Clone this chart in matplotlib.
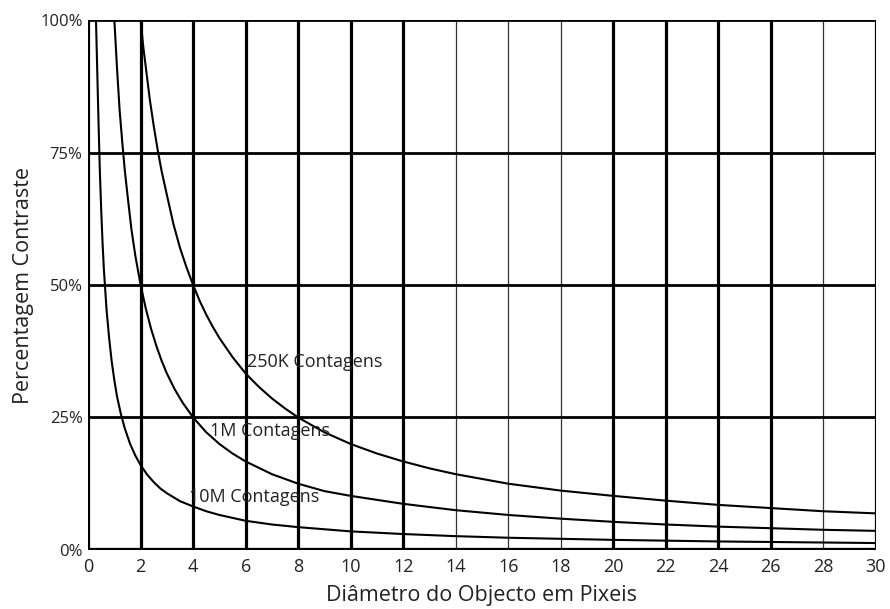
import matplotlib.pyplot as plt

plt.rcParams['font.family'] = ['Open Sans', 'DejaVu Sans']

# Curves (percent contrast vs object diameter in pixels)
x_250k = [2, 2.1, 2.2, 2.35, 2.5, 2.65, 2.8, 3, 3.25, 3.5, 3.75, 4, 4.25, 4.5, 4.75, 5, 5.5, 6, 6.5, 7, 7.5, 8,
          9, 10, 11, 12, 13, 14, 16, 18, 20, 22, 24, 26, 28, 30]
y_250k = [100, 95, 91, 85, 80, 75.5, 71.5, 67, 61.5, 57, 53.3, 50, 47, 44.4, 42.1, 40, 36.4, 33.3, 30.8, 28.6,
          26.7, 25, 22.2, 20, 18.2, 16.7, 15.4, 14.3, 12.5, 11.2, 10.2, 9.3, 8.5, 7.9, 7.3, 6.9]

x_1m = [1, 1.1, 1.2, 1.3, 1.4, 1.5, 1.65, 1.8, 2, 2.2, 2.4, 2.6, 2.8, 3, 3.3, 3.6, 4, 4.5, 5, 5.5, 6, 7, 8,
        9, 10, 12, 14, 16, 18, 20, 22, 24, 26, 28, 30]
y_1m = [100, 91, 83, 77, 71.5, 67, 60.5, 55.5, 50, 45.5, 41.7, 38.5, 35.7, 33.3, 30.3, 27.8, 25, 22.2, 20,
        18.2, 16.7, 14.3, 12.5, 11.1, 10.2, 8.7, 7.5, 6.6, 5.9, 5.3, 4.8, 4.4, 4.1, 3.8, 3.6]

x_10m = [0.3, 0.35, 0.4, 0.45, 0.5, 0.55, 0.6, 0.7, 0.8, 0.9, 1, 1.1, 1.25, 1.4, 1.6, 1.8, 2, 2.25, 2.5, 2.75,
         3, 3.5, 4, 4.5, 5, 6, 7, 8, 10, 12, 14, 16, 18, 20, 24, 28, 30]
y_10m = [100, 90, 80, 71, 64, 58, 53, 45.5, 40, 35.5, 32, 29, 25.6, 22.9, 20, 17.8, 16, 14.2, 12.8, 11.6,
         10.7, 9.2, 8.2, 7.3, 6.6, 5.5, 4.8, 4.3, 3.5, 3.0, 2.6, 2.3, 2.1, 1.9, 1.6, 1.4, 1.3]

labels = ['250K Contagens', '1M Contagens', '10M Contagens']
label_pos = [(6.05, 35.5), (4.65, 22.5), (3.85, 10.0)]

x_ticks = list(range(0, 31, 2))
thin_lines = [14, 16, 18, 28]
y_ticks = [0, 25, 50, 75, 100]
y_ticklabels = ['0%', '25%', '50%', '75%', '100%']

fig = plt.figure(figsize=(8.9, 6.09), dpi=100)
ax = fig.add_axes([0.099, 0.097, 0.885, 0.870])

# grid
for xv in x_ticks:
    if xv in thin_lines:
        ax.axvline(xv, color='#333333', lw=0.9, zorder=1)
    else:
        ax.axvline(xv, color='black', lw=2.3, zorder=1)
for yv in y_ticks[1:]:
    ax.axhline(yv, color='black', lw=2.0, zorder=1)
ax.axhline(0, color='black', lw=3.8, zorder=3)

ax.plot(x_250k, y_250k, color='black', lw=1.5, zorder=2)
ax.plot(x_1m, y_1m, color='black', lw=1.5, zorder=2)
ax.plot(x_10m, y_10m, color='black', lw=1.5, zorder=2)

for lab, (lx, ly) in zip(labels, label_pos):
    ax.text(lx, ly, lab, fontsize=13, color='#222222', va='center', ha='left', zorder=4)

ax.set_xlim(0, 30)
ax.set_ylim(0, 100)
ax.set_xticks(x_ticks)
ax.set_yticks(y_ticks)
ax.set_yticklabels(y_ticklabels)
ax.tick_params(axis='x', length=0, labelsize=13, colors='#222222', pad=6)
ax.tick_params(axis='y', length=0, labelsize=12, colors='#222222', pad=4)
for s in ax.spines.values():
    s.set_visible(False)

ax.set_xlabel('Diâmetro do Objecto em Pixeis', fontsize=15.5, color='#222222', labelpad=6)
ax.set_ylabel('Percentagem Contraste', fontsize=15.5, color='#222222', labelpad=4)

fig.savefig('out.png', dpi=100)
